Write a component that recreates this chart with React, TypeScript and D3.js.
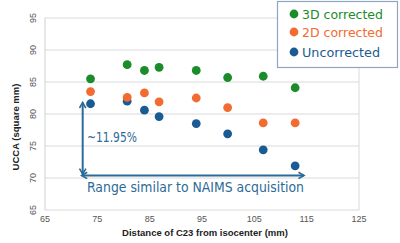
import React from "react";
import * as d3 from "d3";

const distances = [73.7, 80.7, 84.0, 86.8, 93.9, 99.9, 106.7, 112.8];
const corrected3D = [85.5, 87.7, 86.8, 87.3, 86.8, 85.7, 85.9, 84.1];
const corrected2D = [83.5, 82.6, 83.3, 81.9, 82.5, 81.0, 78.6, 78.6];
const uncorrected = [81.6, 82.0, 80.6, 79.6, 78.5, 76.9, 74.4, 71.9];
const xTicks = [65, 75, 85, 95, 105, 115, 125];
const yTicks = [65, 70, 75, 80, 85, 90, 95];
const seriesNames = ["3D corrected", "2D corrected", "Uncorrected"];
const seriesColors = ["#1b8c2a", "#f26b30", "#1b5b93"];
const rangeArrowY = 70.4;
const rangeArrowX = [72.0, 114.5];
const pctArrowX = 72.2;
const pctArrowY = [81.8, 70.6];

export default function App() {
  const W = 400, H = 243;
  const x = d3.scaleLinear().domain([65, 125]).range([45, 359]);
  const y = d3.scaleLinear().domain([65, 95]).range([210, 18]);
  const annot = "#2c6b97";
  const series = [uncorrected, corrected2D, corrected3D];
  const seriesCol = [seriesColors[2], seriesColors[1], seriesColors[0]];
  return (
    <svg width={W} height={H} style={{ position: "absolute", left: 0, top: 0, background: "#fff" }}>
      <defs>
        <marker id="ah" viewBox="0 0 10 10" refX="8" refY="5" markerWidth="4" markerHeight="4" orient="auto-start-reverse">
          <path d="M1,1 L8,5 L1,9" fill="none" stroke={annot} strokeWidth="2" />
        </marker>
      </defs>
      {yTicks.map((t) => (
        <line key={"g" + t} x1={x(65)} x2={x(125)} y1={y(t)} y2={y(t)} stroke="#d9d9d9" strokeWidth={1} />
      ))}
      <line x1={x(65)} x2={x(65)} y1={y(95)} y2={y(65)} stroke="#d0d0d0" />
      <line x1={x(125)} x2={x(125)} y1={y(95)} y2={y(65)} stroke="#d9d9d9" />
      {yTicks.map((t) => (
        <text key={"yl" + t} transform={`translate(36,${y(t)}) rotate(-90)`} textAnchor="middle"
          fontFamily="Liberation Sans, Arial" fontSize={9} fill="#555">{t}</text>
      ))}
      {xTicks.map((t) => (
        <text key={"xl" + t} x={x(t)} y={222} textAnchor="middle"
          fontFamily="Liberation Sans, Arial" fontSize={9} fill="#555">{t}</text>
      ))}
      <text x={205} y={236} textAnchor="middle" fontFamily="Liberation Sans, Arial" fontWeight="bold"
        fontSize={9.5} fill="#222">Distance of C23 from isocenter (mm)</text>
      <text transform="translate(19,127) rotate(-90)" textAnchor="middle" fontFamily="Liberation Sans, Arial"
        fontWeight="bold" fontSize={9.5} fill="#222">UCCA (square mm)</text>
      {series.map((s, si) =>
        s.map((v, i) => (
          <circle key={si + "-" + i} cx={x(distances[i])} cy={y(v)} r={4.4} fill={seriesCol[si]} />
        ))
      )}
      <line x1={x(pctArrowX)} x2={x(pctArrowX)} y1={y(pctArrowY[0])} y2={y(pctArrowY[1])}
        stroke={annot} strokeWidth={2} markerStart="url(#ah)" markerEnd="url(#ah)" />
      <line x1={x(rangeArrowX[0])} x2={x(rangeArrowX[1])} y1={y(rangeArrowY)} y2={y(rangeArrowY)}
        stroke={annot} strokeWidth={2} markerStart="url(#ah)" markerEnd="url(#ah)" />
      <text x={87} y={142} fontFamily="DejaVu Sans" fontSize={14} fill={annot} textLength={50} lengthAdjust="spacingAndGlyphs">~11.95%</text>
      <text x={87} y={192} fontFamily="DejaVu Sans" fontSize={14} fill={annot} textLength={217} lengthAdjust="spacingAndGlyphs">Range similar to NAIMS acquisition</text>
      <rect x={277.5} y={1.5} width={120} height={66} fill="#fff" stroke="#8ea6bf" strokeWidth={1.2} />
      {seriesNames.map((n, i) => {
        const cy = [14, 32, 52][i];
        return (
          <g key={n}>
            <circle cx={294} cy={cy} r={4.4} fill={seriesColors[i]} />
            <text x={302} y={cy + 4.5} fontFamily="DejaVu Sans" fontSize={12.5} fill={seriesColors[i]}
              textLength={i === 2 ? 78 : 81} lengthAdjust="spacingAndGlyphs">{n}</text>
          </g>
        );
      })}
    </svg>
  );
}
